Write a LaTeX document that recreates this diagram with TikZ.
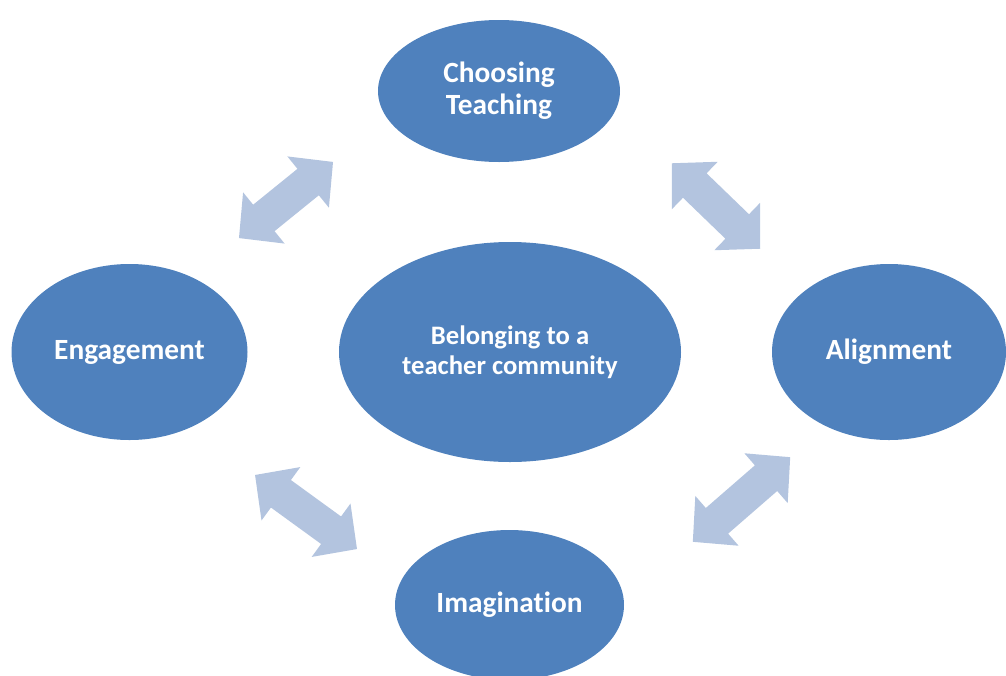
\documentclass[tikz,border=0pt]{standalone}
\usepackage{fontspec}
\setmainfont[Ligatures=NoCommon]{Carlito}
\usetikzlibrary{shapes.geometric}
\newlength\pxu
\setlength\pxu{0.75pt}
\definecolor{ellblue}{HTML}{4F81BD}
\definecolor{arrblue}{HTML}{B3C4DF}
\tikzset{
  bubble/.style={ellipse, fill=ellblue, draw=none, inner sep=0pt, text=white,
    font=\fontsize{22}{24}\selectfont\bfseries, align=center},
  pics/dblarrow/.style={code={
    \fill[arrblue] (-#1/2,0) -- (-#1/2+32,33) -- (-#1/2+32,17) -- (#1/2-32,17)
      -- (#1/2-32,33) -- (#1/2,0) -- (#1/2-32,-33) -- (#1/2-32,-17)
      -- (-#1/2+32,-17) -- (-#1/2+32,-33) -- cycle;
  }}
}
\begin{document}
\begin{tikzpicture}[x=0.75pt, y=-0.75pt]
\useasboundingbox (0,0) rectangle (1006,675);
\clip (0,0) rectangle (1006,675);
\node[bubble, minimum width=242\pxu, minimum height=142\pxu] (choosing) at (499,91) {Choosing\\Teaching};
\node[bubble, minimum width=342\pxu, minimum height=220\pxu, font=\fontsize{20}{22.5}\selectfont\bfseries] (belonging) at (510,352) {Belonging to a\\teacher community};
\node[bubble, minimum width=236\pxu, minimum height=176\pxu] (engagement) at (129.5,352) {Engagement};
\node[bubble, minimum width=234\pxu, minimum height=176\pxu] (alignment) at (889,352) {Alignment};
\node[bubble, minimum width=229\pxu, minimum height=150\pxu] (imagination) at (509.5,605) {Imagination};
\pic[rotate=39] at (286,200) {dblarrow=121};
\pic[rotate=-44] at (716,206) {dblarrow=123};
\pic[rotate=-36] at (306,512) {dblarrow=126};
\pic[rotate=41] at (741.5,499.5) {dblarrow=129};
\end{tikzpicture}
\end{document}
